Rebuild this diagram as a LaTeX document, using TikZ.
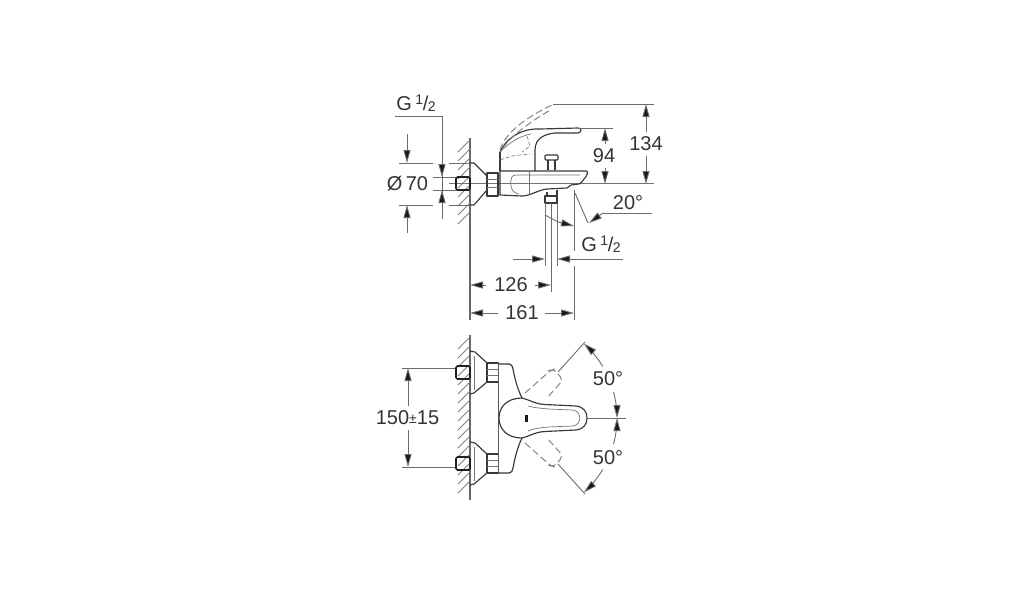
\documentclass[tikz,border=0pt]{standalone}
\usepackage{fontspec}
\setmainfont{Liberation Sans}
\usetikzlibrary{arrows.meta,calc}
\newcommand{\dimsize}{\fontsize{20}{20}\selectfont}
\newcommand{\halfsize}{G\kern3.5pt\raisebox{6pt}{\fontsize{14}{14}\selectfont 1}\kern-0.5pt/\kern-0.5pt\raisebox{-1.5pt}{\fontsize{14}{14}\selectfont 2}}
\tikzset{
  outline/.style={draw=black!78,line width=1.15pt,line join=round},
  heavy outline/.style={draw=black!88,line width=1.7pt,line join=round},
  thin outline/.style={draw=black!55,line width=0.7pt},
  ghost/.style={draw=black!48,line width=1pt,dash pattern=on 7pt off 3.5pt},
  inner ghost/.style={draw=black!50,line width=0.7pt,dash pattern=on 4pt off 2pt},
  dimline/.style={draw=black!58,line width=0.9pt},
  dimtip/.style={dimline,-{Triangle[length=13pt,width=7pt,fill=black!90]}},
  hatch/.style={draw=black!50,line width=0.8pt},
  dimtext/.style={font=\dimsize,text=black!80,inner sep=0pt},
}
\begin{document}
\begin{tikzpicture}[x=1pt,y=-1pt]
  \useasboundingbox (0,0) rectangle (1014,600);
%
% side view : wall
  \draw [dimline,draw=black!60,line width=1.2pt] (470,138) -- (470,320) ;
  \foreach \y in {140,149,...,216} {
    \draw [hatch] (470,\y) -- (458,\y+12) ;
  }
%
% side view : axis and extension lines
  \draw [thin outline] (449,183.5) -- (654,183.5) ;
  \draw [dimline] (574,190) -- (574,251) (574,266) -- (574,320) ;
  \draw [dimline] (575,193) -- (588,223) ;
%
% side view : mixer
  \draw [outline] (470,163) -- (474,163) -- (487,176) -- (487,190) -- (474,205) -- (470,205) ;
  \draw [outline] (487,173) rectangle (498,196) ;
  \draw [thin outline] (487,179) -- (498,179) (487,187) -- (498,187) ;
  \draw [outline] (500,171) -- (586,171) .. controls (589,171) and (587,176) .. (584,179)
    .. controls (582,182) and (581,183) .. (579,184) -- (571,185) -- (567,188) -- (547,189)
    .. controls (538,190) and (530,196) .. (522,196) -- (500,195) -- cycle ;
  \draw [thin outline] (511,186) .. controls (510,178) and (512,175) .. (516,175) -- (580,175) ;
  \draw [thin outline] (511,186) .. controls (512,191) and (514,193) .. (519,194) ;
  \draw [thin outline] (529,171) -- (529,195) ;
%
% side view : lever
  \draw [outline] (500,152) .. controls (505,140) and (520,128) .. (540,129)
    -- (578,128) .. controls (582,128) and (582,132) .. (578,133) -- (555,133)
    .. controls (545,134) and (535,138) .. (535,150) -- (535,171) ;
  \draw [outline] (500,171) -- (500,152) ;
  \draw [thin outline] (500,152) .. controls (510,142) and (520,136) .. (531,134) ;
  \draw [inner ghost] (500,160) -- (512,156) -- (530,154) ;
  \draw [inner ghost] (527,136) -- (530,146) -- (522,152) ;
%
% side view : lever raised
  \draw [ghost] (500,150) .. controls (505,133) and (525,118) .. (552,105) ;
  \draw [ghost] (503,148) .. controls (512,135) and (530,122) .. (552,109) ;
%
% side view : knob and outlet
  \draw [outline,rounded corners=1pt] (545,155) rectangle (558,160) ;
  \draw [outline] (548,160) -- (548,170) (555,160) -- (555,170) ;
  \draw [outline] (547,192) -- (547,196) (557,190) -- (557,196) ;
  \draw [outline] (545,196) rectangle (557,203) ;
  \draw [thin outline] (545,203) -- (545,266) (557,203) -- (557,266) ;
  \draw [dimline] (551,203) -- (551,292) ;
%
% side view : left dimensions
  \node (inlet) [dimtext] at (416,103) {\halfsize} ;
  \draw [dimline] (395,116) -- (442,116) -- (442,219) ;
  \draw [dimtip] (442,160) -- (442,177) ;
  \draw [dimtip] (442,208) -- (442,190) ;
  \draw [dimline] (433,177) -- (457,177) (433,190) -- (457,190) ;
  \node (dia) [dimtext] at (407.5,184) {Ø\,70} ;
  \draw [dimline] (399,163) -- (433,163) (449,163) -- (470,163) ;
  \draw [dimline] (399,205) -- (433,205) (449,205) -- (470,205) ;
  \draw [dimtip] (407,134) -- (407,163) ;
  \draw [dimtip] (407,233) -- (407,205) ;
  \draw [heavy outline,rounded corners=1.5pt] (456,177) rectangle (470,190) ;
%
% side view : right dimensions
  \draw [dimline] (553,104) -- (654,104) ;
  \draw [dimline] (578,128) -- (613,128) ;
  \node (h94) [dimtext] at (604,156) {94} ;
  \draw [dimtip] (605,144) -- (605,128) ;
  \draw [dimtip] (605,168) -- (605,184) ;
  \node (h134) [dimtext] at (646,144) {134} ;
  \draw [dimtip] (646,132) -- (646,104) ;
  \draw [dimtip] (646,156) -- (646,184) ;
%
% side view : outlet angle
  \node (angle) [dimtext] at (628,203) {20°} ;
  \draw [dimline] (652,213) -- (603,213) ;
  \draw [dimtip] (603,213) -- (589,223) ;
  \draw [dimline] (545,215) -- (558,222) ;
  \draw [dimtip] (558,222) -- (574,226) ;
%
% side view : bottom dimensions
  \node (outlet) [dimtext] at (601,244) {\halfsize} ;
  \draw [dimline] (513,259) -- (530,259) ;
  \draw [dimtip] (528,259) -- (545,259) ;
  \draw [dimtip] (574,259) -- (557,259) ;
  \draw [dimline] (574,259) -- (623,259) ;
  \node (w126) [dimtext] at (511,285) {126} ;
  \draw [dimtip] (486,285) -- (470,285) ;
  \draw [dimtip] (535,285) -- (551,285) ;
  \node (w161) [dimtext] at (522,313) {161} ;
  \draw [dimtip] (498,313) -- (470,313) ;
  \draw [dimtip] (545,313) -- (574,313) ;
%
% front view : wall
  \draw [dimline,draw=black!60,line width=1.2pt] (470,335) -- (470,500) ;
  \foreach \y in {337,346,...,488} {
    \draw [hatch] (470,\y) -- (458,\y+12) ;
  }
%
% front view : dimensions
  \draw [dimline] (402,368) -- (456,368) (402,467) -- (456,467) ;
  \node (dist) [dimtext] at (407.5,418) {150\raisebox{1pt}{\fontsize{14}{14}\selectfont ±}15} ;
  \draw [dimtip] (408,406) -- (408,368) ;
  \draw [dimtip] (408,430) -- (408,467) ;
  \draw [dimline] (587,418) -- (626,418) ;
%
% front view : connections
  \foreach \yc in {372.5,463.5} {
    \draw [outline] (470,\yc-21.5) -- (475,\yc-20.5) -- (487,\yc-9.5) -- (487,\yc+9.5) -- (474,\yc+20.5) -- (470,\yc+21.5) ;
    \draw [thin outline] (474,\yc-17) -- (474,\yc+17) ;
    \draw [outline] (487,\yc-9.5) rectangle (498.5,\yc+9.5) ;
    \draw [thin outline] (487,\yc-3) -- (498.5,\yc-3) (487,\yc+3) -- (498.5,\yc+3) ;
    \draw [heavy outline,rounded corners=1.5pt] (456,\yc-6.5) rectangle (470,\yc+6.5) ;
  }
%
% front view : body
  \draw [draw=black!65,line width=1pt] (498.5,363) -- (498.5,473) ;
  \draw [outline] (498.5,364) -- (509,364) .. controls (512,364) and (512,366) .. (513,369) .. controls (515,380) and (518,390) .. (522,398) ;
  \draw [outline] (498.5,473) -- (509,473) .. controls (512,473) and (512,471) .. (513,468) .. controls (515,457) and (518,446) .. (522,438) ;
%
% front view : lever
  \draw [outline] (522,398) .. controls (507,398) and (499,407) .. (499,418) .. controls (499,429) and (507,438) .. (522,438)
    .. controls (530,436) and (535,432) .. (545,431.5) -- (576,430) .. controls (584,429) and (587,424) .. (587,418)
    .. controls (587,412) and (584,407) .. (576,406) -- (545,404.5) .. controls (535,404) and (530,400) .. (522,398) -- cycle ;
  \draw [thin outline] (528,406) .. controls (535,408) and (540,408) .. (548,409) -- (573,410) .. controls (582,411) and (582,425) .. (573,426) -- (548,427) .. controls (540,428) and (535,428) .. (528,431) ;
  \fill [black!90] (524.5,414.5) rectangle (527.5,421.5) ;
%
% front view : lever turned
  \foreach \s in {1,-1} {
    \draw [ghost,rounded corners=4pt] (525,418-\s*25) -- (551,418-\s*48) -- (554,418-\s*49) -- (563,418-\s*38) -- (547,418-\s*20) ;
    \draw [dimline] (558,418-\s*46) -- (585,418-\s*76) ;
  }
%
% front view : turning angles
  \node (upper) [dimtext] at (608,379) {50°} ;
  \node (lower) [dimtext] at (608,458) {50°} ;
  \foreach \s in {1,-1} {
    \draw [dimtip] ($(517,418)+(\s*36:100 and 100)$) arc[start angle=\s*36,end angle=\s*48,radius=100] ;
    \draw [dimline] ($(517,418)+(\s*36:100 and 100)$) arc[start angle=\s*36,end angle=\s*31,radius=100] ;
    \draw [dimline] ($(517,418)+(\s*15:100 and 100)$) arc[start angle=\s*15,end angle=\s*8,radius=100] ;
    \draw [dimtip] ($(517,418)+(\s*8:100 and 100)$) arc[start angle=\s*8,end angle=0,radius=100] ;
  }
%
\end{tikzpicture}
\end{document}
